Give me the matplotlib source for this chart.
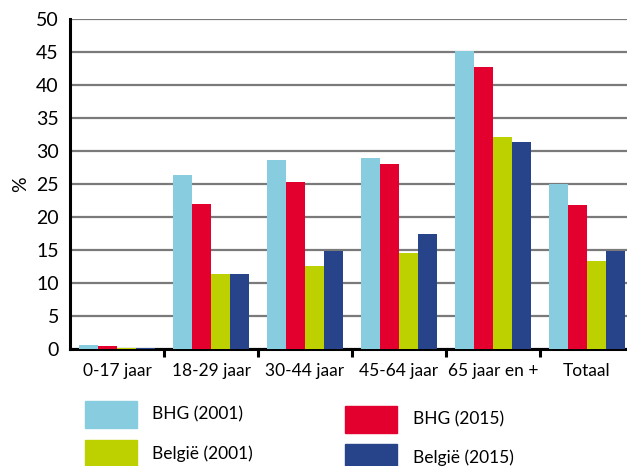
import matplotlib
matplotlib.use('Agg')
import matplotlib.pyplot as plt
import numpy as np
from matplotlib.patches import Rectangle

plt.rcParams['font.family'] = ['Lato', 'DejaVu Sans']

# categories and series
categories = ['0-17 jaar', '18-29 jaar', '30-44 jaar', '45-64 jaar', '65 jaar en +', 'Totaal']
bhg_2001 = [0.6, 26.4, 28.6, 28.9, 45.1, 25.0]
bhg_2015 = [0.4, 22.0, 25.3, 28.0, 42.7, 21.8]
belgie_2001 = [0.2, 11.4, 12.6, 14.6, 32.1, 13.3]
belgie_2015 = [0.15, 11.4, 14.9, 17.4, 31.4, 14.9]

series = [bhg_2001, bhg_2015, belgie_2001, belgie_2015]
names = ['BHG (2001)', 'BHG (2015)', 'België (2001)', 'België (2015)']
colors = ['#88cddf', '#e4002e', '#bdd000', '#27448b']

fig = plt.figure(figsize=(6.27, 4.66), dpi=100)
ax = fig.add_axes([70 / 627, 1 - 349 / 466, 1 - 70 / 627, 330 / 466])

x = np.arange(len(categories))
w = 0.2
for i, (vals, c) in enumerate(zip(series, colors)):
    ax.bar(x - 0.3 + i * w, vals, width=w, color=c, zorder=3)

ax.set_ylim(0, 50)
ax.set_yticks(np.arange(0, 51, 5))
ax.set_xlim(-0.5, -0.5 + 557 / 94)
ax.grid(axis='y', color='#7a7a7a', linewidth=1.6, zorder=0)
ax.set_axisbelow(True)

for s in ['top', 'right']:
    ax.spines[s].set_visible(False)
ax.spines['left'].set_linewidth(2.2)
ax.spines['bottom'].set_linewidth(2.2)
ax.spines['left'].set_zorder(4)

ax.tick_params(axis='y', length=0, pad=8, labelsize=14)
ax.set_xticks(x)
ax.set_xticklabels(categories)
ax.tick_params(axis='x', which='major', length=0, pad=10, labelsize=12.5)
ax.set_xticks(x[:-1] + 0.5, minor=True)
ax.tick_params(axis='x', which='minor', length=6, width=2.2, color='black')

ax.set_ylabel('%', fontsize=14, labelpad=5)

# legend drawn by hand in figure pixels
leg_pos = [(85, 401, 152), (345, 406, 413), (85, 440, 152), (345, 444, 413)]
for (px, py, tx), name, c in zip(leg_pos, names, colors):
    fig.patches.append(Rectangle((px / 627, 1 - (py + 27) / 466), 52 / 627, 27 / 466,
                                 transform=fig.transFigure, color=c))
    fig.text(tx / 627, 1 - (py + 13.5) / 466, name, fontsize=12.5, va='center', ha='left')

fig.savefig('out.png', dpi=100)
